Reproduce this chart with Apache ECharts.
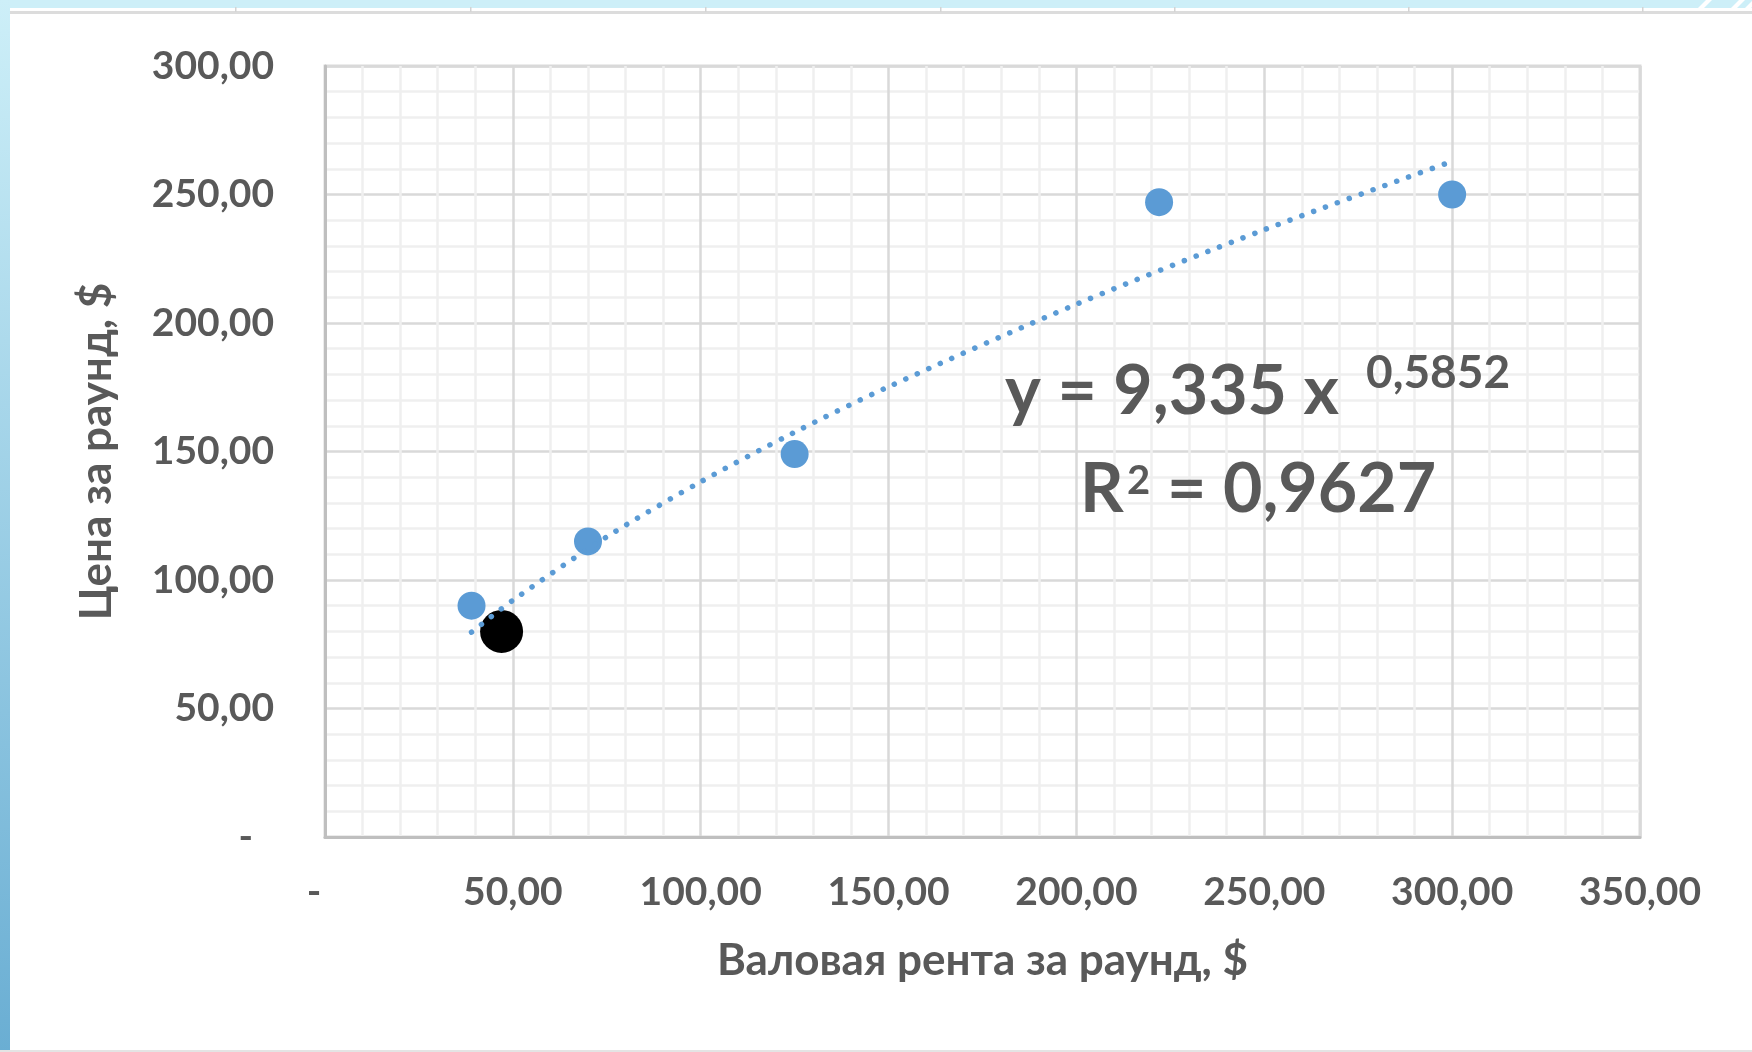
<!DOCTYPE html>
<html>
<head>
<meta charset="utf-8">
<script src="https://cdn.jsdelivr.net/npm/echarts@6/dist/echarts.min.js"></script>
<style>
html,body{margin:0;padding:0;background:#fff;}
#chart{width:1752px;height:1052px;}
</style>
</head>
<body>
<div id="chart"></div>
<script>
// ---- data ----
const rentValues  = [39, 70, 125, 222, 300];   // Валовая рента за раунд, $
const priceValues = [90, 115, 149, 247, 250];  // Цена за раунд, $
const highlightRent  = [47];
const highlightPrice = [80];
const trendRent  = [39, 50, 75, 100, 125, 150, 200, 250, 300];
const trendPrice = [79.7, 92.1, 116.8, 138.2, 157.5, 175.2, 207.3, 236.3, 262.9];
const xTickValues = [0, 50, 100, 150, 200, 250, 300, 350];
const yTickValues = [0, 50, 100, 150, 200, 250, 300];
const equationText = 'y = 9,335 x';
const exponentText = '0,5852';
const r2Letter = 'R';
const r2Power = '2';
const r2Text = '= 0,9627';
const xTitle = 'Валовая рента за раунд, $';
const yTitle = 'Цена за раунд, $';

const FONT = "Lato, 'Open Sans', 'Noto Sans', sans-serif";
const GREY = '#595959';

function fmt(v){ return v === 0 ? '{d|-}' : v.toFixed(2).replace('.', ','); }

const chart = echarts.init(document.getElementById('chart'), null, {renderer:'canvas'});

const frame = [
  {type:'rect', shape:{x:0,y:0,width:1752,height:8}, style:{fill:'#CDEFF8'}, silent:true},
  {type:'rect', shape:{x:8,y:11,width:1744,height:3}, style:{fill:'#DCDCDC'}, silent:true},
  {type:'rect', shape:{x:0,y:0,width:10,height:1052}, silent:true,
    style:{fill:new echarts.graphic.LinearGradient(0,0,0,1,[{offset:0,color:'#CDEFF8'},{offset:1,color:'#6AAED3'}])}},
  {type:'rect', shape:{x:0,y:1050,width:1752,height:2}, style:{fill:'#E4E4E4'}, silent:true},
  {type:'polygon', shape:{points:[[1698,8],[1704,8],[1712,0],[1706,0]]}, style:{fill:'#fff'}, silent:true},
  {type:'polygon', shape:{points:[[1731,8],[1737,8],[1745,0],[1739,0]]}, style:{fill:'#fff'}, silent:true},
  {type:'polygon', shape:{points:[[1745,8],[1751,8],[1752,7],[1752,1]]}, style:{fill:'#fff'}, silent:true}
];
[235,470,705,940,1174,1408,1642].forEach(function(x){
  frame.push({type:'rect', shape:{x:x,y:7,width:1.5,height:5}, style:{fill:'#D4D4D4'}, silent:true});
});

const eqFont = 'bold 68px ' + FONT;
const eq = [
  {type:'text', left:1005, top:358, style:{text:equationText, font:eqFont, fill:GREY}, z:20},
  {type:'text', left:1366, top:350, style:{text:exponentText, font:'bold 46px '+FONT, fill:GREY}, z:20},
  {type:'text', left:1080, top:456, style:{text:r2Letter, font:eqFont, fill:GREY}, z:20},
  {type:'text', left:1127, top:461, style:{text:r2Power, font:'bold 40px '+FONT, fill:GREY}, z:20},
  {type:'text', left:1167, top:456, style:{text:r2Text, font:eqFont, fill:GREY}, z:20}
];

chart.setOption({
  animation:false,
  backgroundColor:'#ffffff',
  graphic: frame.concat(eq),
  grid:{left:325, top:66, width:1315, height:771, show:true, borderColor:'#D9D9D9', borderWidth:3, backgroundColor:'transparent'},
  xAxis:{
    type:'value', min:0, max:350, interval:50,
    name:xTitle, nameLocation:'middle', nameGap:102,
    nameTextStyle:{color:GREY, fontWeight:'bold', fontSize:44, fontFamily:FONT},
    axisLine:{show:true, lineStyle:{color:'#BFBFBF', width:3}},
    axisTick:{show:false},
    splitLine:{show:true, lineStyle:{color:'#D9D9D9', width:2.5}},
    minorTick:{show:false, splitNumber:5},
    minorSplitLine:{show:true, lineStyle:{color:'#EFEFEF', width:2.5}},
    axisLabel:{formatter:fmt, margin:36, color:GREY, fontSize:39, fontWeight:'bold', fontFamily:FONT,
      showMinLabel:true, showMaxLabel:true,
      rich:{d:{color:GREY, fontSize:39, fontWeight:'bold', fontFamily:FONT, padding:[0,22,0,0]}}}
  },
  yAxis:{
    type:'value', min:0, max:300, interval:50,
    name:yTitle, nameLocation:'middle', nameGap:206, nameRotate:90,
    nameTextStyle:{color:GREY, fontWeight:'bold', fontSize:44, fontFamily:FONT},
    axisLine:{show:true, lineStyle:{color:'#BFBFBF', width:3}},
    axisTick:{show:false},
    splitLine:{show:true, lineStyle:{color:'#D9D9D9', width:2.5}},
    minorTick:{show:false, splitNumber:5},
    minorSplitLine:{show:true, lineStyle:{color:'#EFEFEF', width:2.5}},
    axisLabel:{formatter:fmt, margin:51, color:GREY, fontSize:39, fontWeight:'bold', fontFamily:FONT,
      rich:{d:{color:GREY, fontSize:39, fontWeight:'bold', fontFamily:FONT, padding:[0,21,0,0]}}}
  },
  series:[
    {type:'scatter', name:'points', symbol:'circle', symbolSize:28, z:3,
     itemStyle:{color:'#5B9BD5', opacity:1},
     data: rentValues.map(function(x,i){return [x, priceValues[i]];})},
    {type:'scatter', name:'highlight', symbol:'circle', symbolSize:43, z:4,
     itemStyle:{color:'#000000', opacity:1},
     data: highlightRent.map(function(x,i){return [x, highlightPrice[i]];})},
    {type:'line', name:'trend', showSymbol:false, symbol:'none', smooth:0.3, z:5,
     lineStyle:{color:'#5B9BD5', width:5.5, type:[0.1,12.5], cap:'round'},
     data: trendRent.map(function(x,i){return [x, trendPrice[i]];})}
  ]
});
</script>
</body>
</html>
